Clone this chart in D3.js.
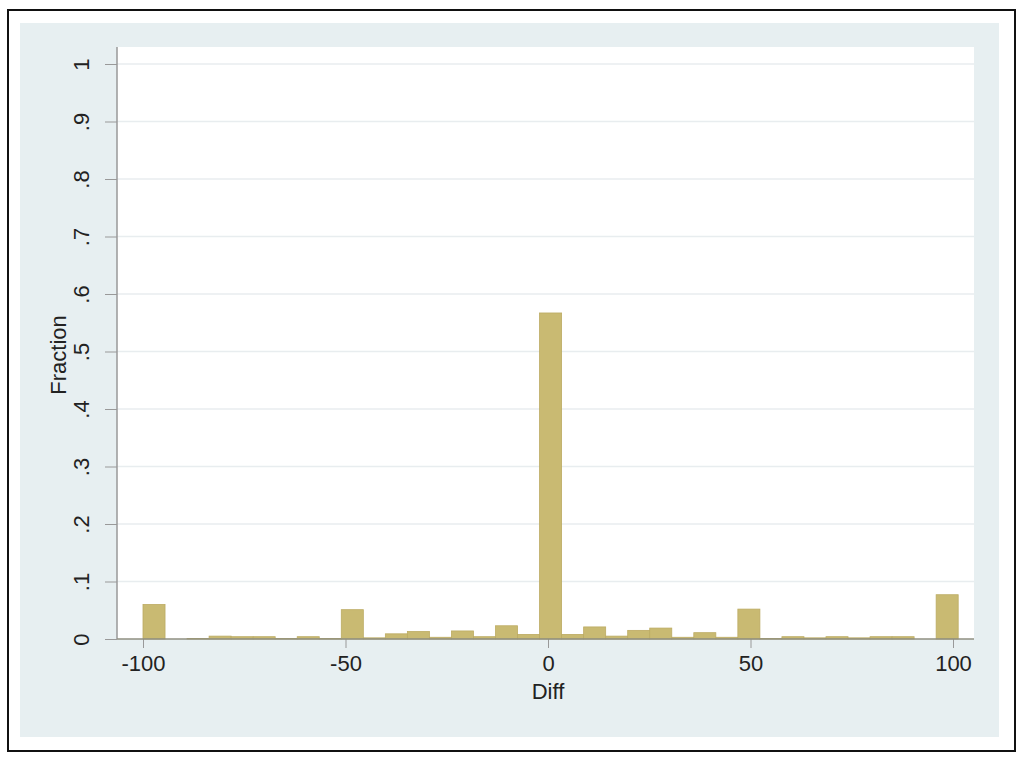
<!DOCTYPE html>
<html>
<head>
<meta charset="utf-8">
<script src="https://cdn.jsdelivr.net/npm/d3@7"></script>
<style>
  body { margin: 0; background: #fff; }
  text { font-family: "Liberation Sans", Arial, sans-serif; fill: #222; }
</style>
</head>
<body>
<div id="chart"></div>
<script>
// histogram of Diff, 37 bins starting at -100
var binStart = -100;
var binWidth = 5.44;
var fractions = [0.060, 0.000, 0.001, 0.005, 0.004, 0.004, 0.001, 0.004, 0.001, 0.051,
                 0.002, 0.009, 0.013, 0.003, 0.014, 0.004, 0.023, 0.008, 0.567, 0.008,
                 0.021, 0.005, 0.015, 0.019, 0.003, 0.011, 0.003, 0.052, 0.001, 0.004,
                 0.002, 0.004, 0.002, 0.004, 0.004, 0.000, 0.077];
var xTicks = [-100, -50, 0, 50, 100];
var xTickLabels = ["-100", "-50", "0", "50", "100"];
var yTicks = [0, 0.1, 0.2, 0.3, 0.4, 0.5, 0.6, 0.7, 0.8, 0.9, 1];
var yTickLabels = ["0", ".1", ".2", ".3", ".4", ".5", ".6", ".7", ".8", ".9", "1"];

var svgWidth = 1024, svgHeight = 759;

var bins = fractions.map(function(f, i) {
  return { x0: binStart + i * binWidth, x1: binStart + (i + 1) * binWidth, f: f };
});

var svg = d3.select("#chart").append("svg")
  .attr("width", svgWidth)
  .attr("height", svgHeight);

// outer frame + graph region
svg.append("rect")
  .attr("x", 8).attr("y", 10).attr("width", 1007).attr("height", 741)
  .attr("fill", "#fff").attr("stroke", "#111").attr("stroke-width", 2);
svg.append("rect")
  .attr("x", 20).attr("y", 23).attr("width", 979).attr("height", 714)
  .attr("fill", "#e7eff1");

var xScale = d3.scaleLinear().domain([-100, 100]).range([143, 953]);
var yScale = d3.scaleLinear().domain([0, 1]).range([639, 64]);

// plot region
var plotLeft = 117, plotRight = 974, plotTop = 47;
svg.append("rect")
  .attr("x", plotLeft).attr("y", plotTop)
  .attr("width", plotRight - plotLeft).attr("height", yScale(0) - plotTop)
  .attr("fill", "#fff");

// gridlines
svg.append("g").selectAll("line")
  .data(yTicks.slice(1))
  .enter().append("line")
  .attr("x1", plotLeft).attr("x2", plotRight)
  .attr("y1", d => yScale(d)).attr("y2", d => yScale(d))
  .attr("stroke", "#e8edef").attr("stroke-width", 1.5);

// bars
svg.append("g").selectAll("rect")
  .data(bins)
  .enter().append("rect")
  .attr("x", d => xScale(d.x0))
  .attr("y", d => yScale(d.f))
  .attr("width", d => xScale(d.x1) - xScale(d.x0))
  .attr("height", d => yScale(0) - yScale(d.f))
  .attr("fill", "#c9ba72")
  .attr("stroke", "#bcab62")
  .attr("stroke-width", 0.8);

// y axis
var yAxis = d3.axisLeft(yScale)
  .tickValues(yTicks)
  .tickSize(12)
  .tickPadding(0)
  .tickFormat((d, i) => yTickLabels[i]);

var yG = svg.append("g")
  .attr("transform", `translate(${plotLeft},0)`)
  .call(yAxis);
yG.select(".domain").remove();
yG.selectAll(".tick line").attr("stroke", "#999");
yG.selectAll(".tick text")
  .attr("x", 0).attr("dy", 0)
  .attr("transform", "translate(-28,0) rotate(-90)")
  .attr("text-anchor", "middle")
  .attr("font-size", 22)
  .style("fill", "#222");
svg.append("line")
  .attr("x1", plotLeft).attr("x2", plotLeft)
  .attr("y1", plotTop).attr("y2", yScale(0))
  .attr("stroke", "#999").attr("stroke-width", 1.5);

// x axis
var xAxis = d3.axisBottom(xScale)
  .tickValues(xTicks)
  .tickSize(9)
  .tickPadding(7)
  .tickFormat((d, i) => xTickLabels[i]);

var xG = svg.append("g")
  .attr("transform", `translate(0,${yScale(0)})`)
  .call(xAxis);
xG.select(".domain").remove();
xG.selectAll(".tick line").attr("stroke", "#999");
xG.selectAll(".tick text")
  .attr("font-size", 22)
  .style("fill", "#222");
svg.append("line")
  .attr("x1", plotLeft).attr("x2", plotRight)
  .attr("y1", yScale(0)).attr("y2", yScale(0))
  .attr("stroke", "#8f8f80").attr("stroke-width", 1.5);

// axis titles
svg.append("text")
  .attr("x", xScale(0))
  .attr("y", 699)
  .attr("text-anchor", "middle")
  .attr("font-size", 22)
  .text("Diff");

svg.append("text")
  .attr("transform", `translate(66, ${(plotTop + yScale(0)) / 2 + 12}) rotate(-90)`)
  .attr("text-anchor", "middle")
  .attr("font-size", 22)
  .text("Fraction");
</script>
</body>
</html>
